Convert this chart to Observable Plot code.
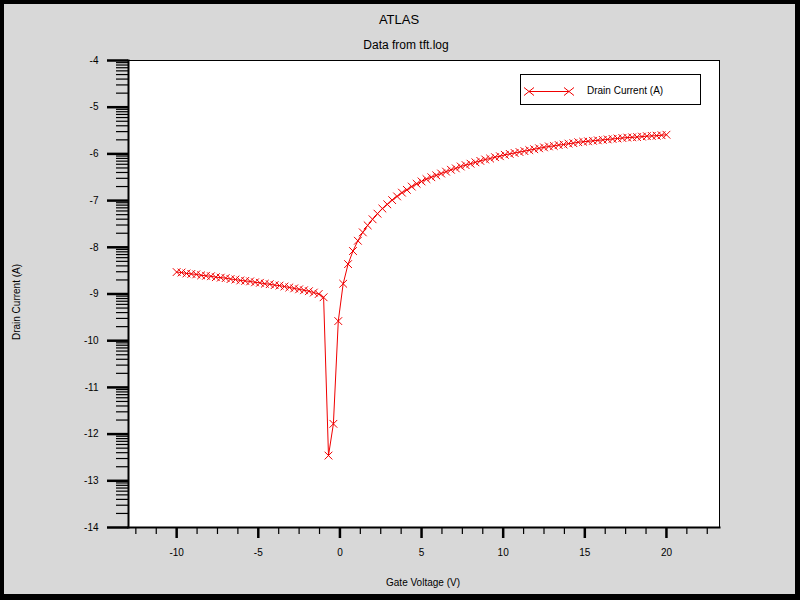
<!DOCTYPE html>
<html>
<head>
<meta charset="utf-8">
<script src="https://cdn.jsdelivr.net/npm/d3@7"></script>
<script src="https://cdn.jsdelivr.net/npm/@observablehq/plot@0.6"></script>
<style>
  html, body { margin: 0; padding: 0; background: #000; }
  #wrap { position: relative; width: 800px; height: 600px; background: #000; overflow: hidden; font-family: "Liberation Sans", Arial, sans-serif; }
  #panel { position: absolute; left: 4px; top: 4px; width: 791px; height: 590px; background: #d8d8d8; }
  #chart { position: absolute; left: 0; top: 0; }
  .t { position: absolute; color: #000; white-space: nowrap; }
  #legend { position: absolute; left: 520px; top: 74px; width: 179px; height: 29px; background: #fff; border: 1px solid #000; }
</style>
</head>
<body>
<div id="wrap">
  <div id="panel"></div>
  <div id="chart"></div>
  <div class="t" id="title" style="left:0;width:798px;top:12px;text-align:center;font-size:13px;">ATLAS</div>
  <div class="t" id="subtitle" style="left:0;width:812px;top:38px;text-align:center;font-size:12px;">Data from tft.log</div>
  <div class="t" id="xlabel" style="left:0;width:846px;top:577px;text-align:center;font-size:10px;">Gate Voltage (V)</div>
  <div class="t" id="ylabel" style="left:16px;top:302px;font-size:10px;transform:translate(-50%,-50%) rotate(-90deg);">Drain Current (A)</div>
  <div id="legend"></div>
</div>
<script>
// Gate voltage sweep (V)
const gateVoltage = [-10,-9.7,-9.4,-9.1,-8.8,-8.5,-8.2,-7.9,-7.6,-7.3,-7,-6.7,-6.4,-6.1,-5.8,-5.5,-5.2,-4.9,-4.6,-4.3,-4,-3.7,-3.4,-3.1,-2.8,-2.5,-2.2,-1.9,-1.6,-1.3,-1,
  -0.7,-0.4,-0.1,0.2,0.5,0.8,1.1,1.4,1.7,2,2.3,2.6,2.9,3.2,3.5,3.8,4.1,4.4,4.7,5,5.3,5.6,5.9,6.2,6.5,6.8,7.1,7.4,7.7,8,8.3,8.6,8.9,9.2,9.5,9.8,
  10.1,10.4,10.7,11,11.3,11.6,11.9,12.2,12.5,12.8,13.1,13.4,13.7,14,14.3,14.6,14.9,15.2,15.5,15.8,16.1,16.4,16.7,17,17.3,17.6,17.9,18.2,18.5,18.8,19.1,19.4,19.7,20];
// log10 of drain current (A)
const drainCurrentLog = [-8.53,-8.54,-8.56,-8.57,-8.58,-8.60,-8.61,-8.62,-8.64,-8.65,-8.66,-8.68,-8.69,-8.71,-8.72,-8.73,-8.75,-8.76,-8.78,-8.79,-8.81,-8.82,-8.84,-8.86,-8.88,-8.90,-8.92,-8.94,-8.97,-9.00,-9.07,
  -12.46,-11.78,-9.58,-8.78,-8.36,-8.08,-7.86,-7.68,-7.53,-7.40,-7.28,-7.17,-7.08,-6.99,-6.91,-6.83,-6.77,-6.70,-6.64,-6.59,-6.54,-6.50,-6.46,-6.42,-6.38,-6.34,-6.31,-6.27,-6.24,-6.21,-6.18,-6.15,-6.12,-6.10,-6.07,-6.05,
  -6.02,-6.00,-5.98,-5.96,-5.94,-5.92,-5.90,-5.88,-5.86,-5.84,-5.83,-5.81,-5.80,-5.78,-5.77,-5.75,-5.74,-5.73,-5.72,-5.71,-5.70,-5.69,-5.68,-5.67,-5.66,-5.65,-5.645,-5.64,-5.63,-5.62,-5.615,-5.61,-5.60,-5.59];

const xMajorTicks = [-10, -5, 0, 5, 10, 15, 20];
const xMinorTicks = [-12.5, -11.25, -8.75, -7.5, -6.25, -3.75, -2.5, -1.25, 1.25, 2.5, 3.75, 6.25, 7.5, 8.75, 11.25, 12.5, 13.75, 16.25, 17.5, 18.75, 21.25, 22.5];
const yMajorTicks = [-14, -13, -12, -11, -10, -9, -8, -7, -6, -5, -4];
const decadeSteps = [2, 3, 4, 5, 6, 7, 8, 9];
const yMinorTicks = yMajorTicks.slice(0, -1).flatMap(d => decadeSteps.map(k => d + Math.log10(k)));

const seriesName = "Drain Current (A)";
const red = "#f00000";

const data = gateVoltage.map((v, i) => ({v, i: drainCurrentLog[i]}));

const fmt = d => String(d);

const chart = Plot.plot({
  width: 800,
  height: 600,
  marginLeft: 128,
  marginRight: 81,
  marginTop: 60,
  marginBottom: 73,
  style: {background: "transparent", fontFamily: "'Liberation Sans', Arial, sans-serif", fontSize: "10px", color: "#000"},
  x: {domain: [-12.95, 23.25], axis: null},
  y: {domain: [-14, -4], axis: null},
  marks: [
    Plot.frame({fill: "white", stroke: "black", strokeWidth: 1}),
    Plot.frame({anchor: "left", stroke: "black", strokeWidth: 2}),
    Plot.frame({anchor: "bottom", stroke: "black", strokeWidth: 2}),
    Plot.axisY({ticks: yMajorTicks, tickSize: 21, tickPadding: 9, tickFormat: fmt, strokeWidth: 2.5, label: null, fontSize: 10}),
    Plot.axisY({ticks: yMinorTicks, tickSize: 12, text: null, strokeWidth: 1.2, label: null}),
    Plot.axisX({ticks: xMajorTicks, tickSize: 11, tickPadding: 10, tickFormat: fmt, strokeWidth: 2.5, label: null, fontSize: 10}),
    Plot.axisX({ticks: xMinorTicks, tickSize: 7, text: null, strokeWidth: 1.2, label: null}),
    Plot.line(data, {x: "v", y: "i", stroke: red, strokeWidth: 1}),
    Plot.dot(data, {x: "v", y: "i", symbol: "times", r: 3.6, stroke: red, strokeWidth: 1})
  ]
});
document.getElementById("chart").appendChild(chart);

// Legend
const legend = document.getElementById("legend");
const ns = "http://www.w3.org/2000/svg";
const ls = document.createElementNS(ns, "svg");
ls.setAttribute("width", 60);
ls.setAttribute("height", 29);
ls.style.position = "absolute";
ls.style.left = "0px";
ls.style.top = "0px";
const ln = document.createElementNS(ns, "line");
ln.setAttribute("x1", 8); ln.setAttribute("x2", 48); ln.setAttribute("y1", 16.5); ln.setAttribute("y2", 16.5);
ln.setAttribute("stroke", red); ln.setAttribute("stroke-width", 1);
ls.appendChild(ln);
for (const cx of [8, 48]) {
  const p = document.createElementNS(ns, "path");
  p.setAttribute("d", `M${cx-5},${16.5-4}L${cx+5},${16.5+4}M${cx-5},${16.5+4}L${cx+5},${16.5-4}`);
  p.setAttribute("stroke", red); p.setAttribute("stroke-width", 1); p.setAttribute("fill", "none");
  ls.appendChild(p);
}
legend.appendChild(ls);
const lt = document.createElement("div");
lt.textContent = seriesName;
lt.style.cssText = "position:absolute;left:66px;top:10px;font-size:10px;white-space:nowrap;";
legend.appendChild(lt);
</script>
</body>
</html>
